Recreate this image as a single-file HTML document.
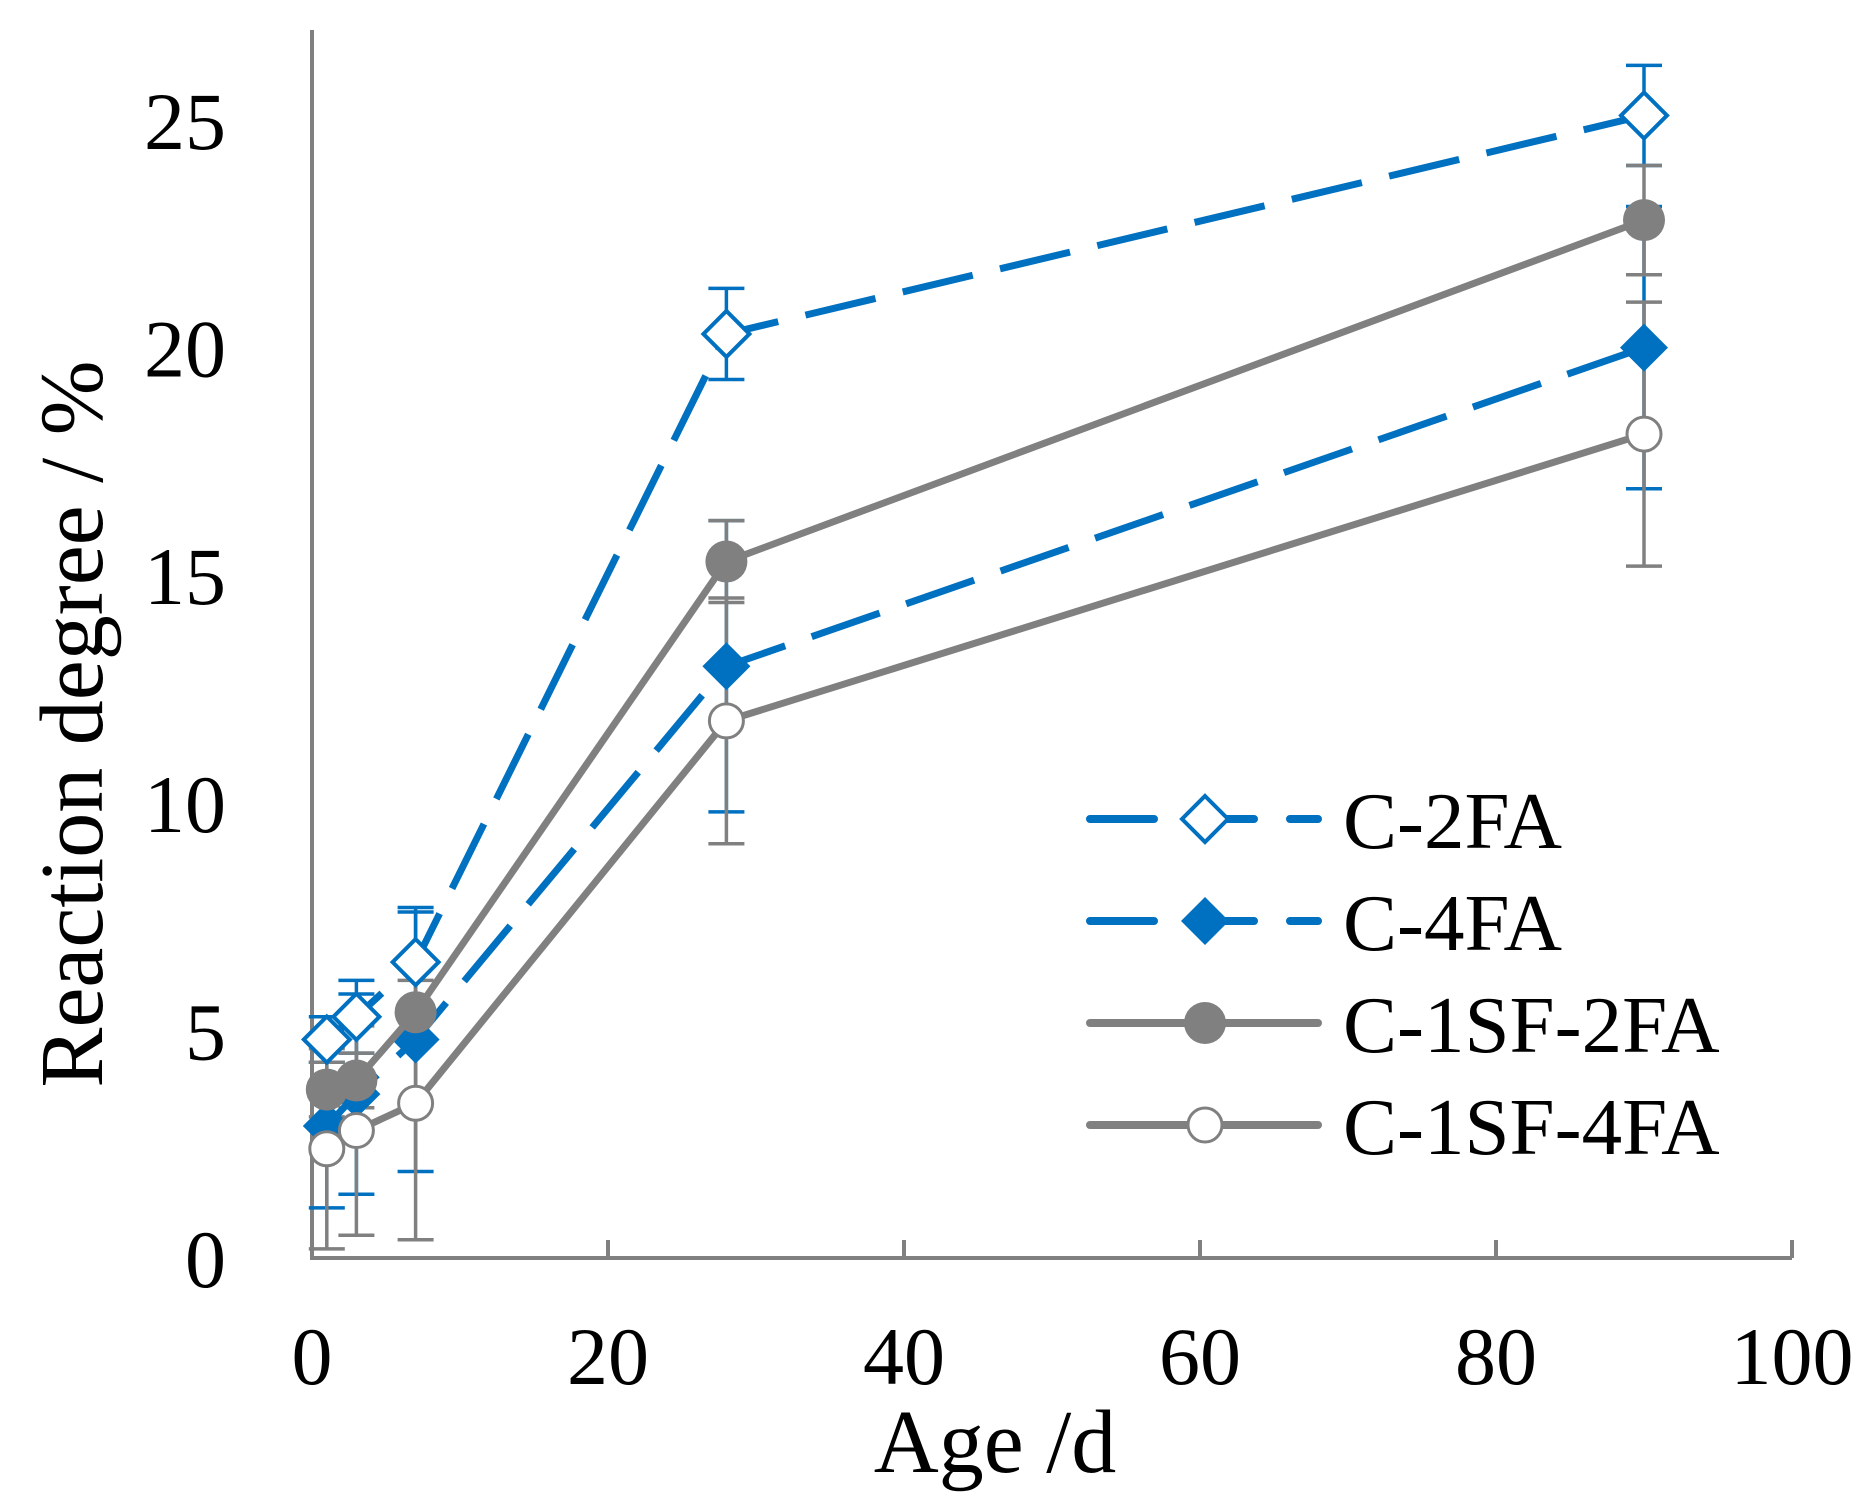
<!DOCTYPE html>
<html><head><meta charset="utf-8">
<style>
html,body{margin:0;padding:0;background:#fff;}
svg{display:block;font-family:"Liberation Serif",serif;}
</style></head>
<body>
<svg id="chart" width="1861" height="1511" viewBox="0 0 1861 1511" xmlns="http://www.w3.org/2000/svg"></svg>
<script>
const ages = [1, 3, 7, 28, 90];
const c2faValues = [4.8, 5.3, 6.5, 20.3, 25.1];
const c2faErrors = [0.5, 0.8, 1.1, 1.0, 1.1];
const c4faValues = [2.9, 3.6, 4.8, 13.0, 20.0];
const c4faErrors = [1.8, 2.2, 2.9, 3.2, 3.1];
const c1sf2faValues = [3.7, 3.9, 5.4, 15.3, 22.8];
const c1sf2faErrors = [0.6, 0.6, 0.7, 0.9, 1.2];
const c1sf4faValues = [2.4, 2.8, 3.4, 11.8, 18.1];
const c1sf4faErrors = [2.2, 2.3, 3.0, 2.7, 2.9];
const xTicks = [0, 20, 40, 60, 80, 100];
const yTicks = [0, 5, 10, 15, 20, 25];
const seriesNames = ["C-2FA", "C-4FA", "C-1SF-2FA", "C-1SF-4FA"];

const NS = "http://www.w3.org/2000/svg";
const svg = document.getElementById("chart");
const X0 = 312, X1 = 1792, Y0 = 1258, Y25 = 120;
const xs = v => X0 + (v / 100) * (X1 - X0);
const ys = v => Y0 - (v / 25) * (Y0 - Y25);
const BLUE = "#0070c0", GRAY = "#808080";

function mk(tag, attrs, parent) {
  const e = document.createElementNS(NS, tag);
  for (const k in attrs) e.setAttribute(k, attrs[k]);
  (parent || svg).appendChild(e);
  return e;
}

const yAxis = mk("line", {x1: X0, y1: 30, x2: X0, y2: Y0, stroke: GRAY, "stroke-width": 4});


const xAxis = mk("line", {x1: X0 - 2, y1: Y0, x2: X1, y2: Y0, stroke: GRAY, "stroke-width": 4});



xTicks.forEach(t => {
  if (t > 0) {
    const tk = mk("line", {x1: xs(t), y1: Y0, x2: xs(t), y2: Y0 - 18, stroke: GRAY, "stroke-width": 4});
    
    
  }
  const lb = mk("text", {x: xs(t), y: Y0 + 126, "text-anchor": "middle", "font-size": 82, fill: "#000"});
  lb.textContent = t;
  
  
});
yTicks.forEach(t => {
  const lb = mk("text", {x: 226, y: ys(t) + 29, "text-anchor": "end", "font-size": 82, fill: "#000"});
  lb.textContent = t;
  
  
});

const xt = mk("text", {x: 995, y: 1472, "text-anchor": "middle", "font-size": 90, fill: "#000"});
xt.textContent = "Age /d";


const yt = mk("text", {x: 0, y: 0, "text-anchor": "middle", "font-size": 90, fill: "#000", transform: "translate(102,724) rotate(-90)"});
yt.textContent = "Reaction degree / %";



function marker(type, cx, cy, g) {
  let m;
  if (type === "odiamond") m = mk("polygon", {points: `${cx},${cy-23} ${cx+23},${cy} ${cx},${cy+23} ${cx-23},${cy}`, fill: "#fff", stroke: BLUE, "stroke-width": 4}, g);
  else if (type === "fdiamond") m = mk("polygon", {points: `${cx},${cy-24} ${cx+24},${cy} ${cx},${cy+24} ${cx-24},${cy}`, fill: BLUE}, g);
  else if (type === "fcircle") m = mk("circle", {cx, cy, r: 21, fill: GRAY}, g);
  else m = mk("circle", {cx, cy, r: 17, fill: "#fff", stroke: GRAY, "stroke-width": 3}, g);
  return m;
}

const series = [
  {name: seriesNames[0], vals: c2faValues, errs: c2faErrors, color: BLUE, dash: "72 28", mk: "odiamond"},
  {name: seriesNames[1], vals: c4faValues, errs: c4faErrors, color: BLUE, dash: "72 28", mk: "fdiamond"},
  {name: seriesNames[2], vals: c1sf2faValues, errs: c1sf2faErrors, color: GRAY, dash: null, mk: "fcircle"},
  {name: seriesNames[3], vals: c1sf4faValues, errs: c1sf4faErrors, color: GRAY, dash: null, mk: "ocircle"}
];

series.forEach((s, si) => {
  const g = mk("g", {});
  
  
  ages.forEach((a, i) => {
    const x = xs(a), lo = ys(Math.max(0, s.vals[i] - s.errs[i])), hi = ys(s.vals[i] + s.errs[i]);
    mk("line", {x1: x, y1: lo, x2: x, y2: hi, stroke: s.color, "stroke-width": 3.5}, g);
    mk("line", {x1: x - 18, y1: lo, x2: x + 18, y2: lo, stroke: s.color, "stroke-width": 3.5}, g);
    mk("line", {x1: x - 18, y1: hi, x2: x + 18, y2: hi, stroke: s.color, "stroke-width": 3.5}, g);
  });
});

series.forEach((s, si) => {
  const g = mk("g", {});
  
  
  const pts = ages.map((a, i) => xs(a) + "," + ys(s.vals[i])).join(" ");
  const attrs = {points: pts, fill: "none", stroke: s.color, "stroke-width": 7, "stroke-linejoin": "round"};
  if (s.dash) attrs["stroke-dasharray"] = s.dash;
  mk("polyline", attrs, g);
  ages.forEach((a, i) => {
    const m = marker(s.mk, xs(a), ys(s.vals[i]), g);
    
    
  });
  const ly = 819 + si * 102;
  const lg = mk("g", {});
  
  
  const la = {x1: 1090, y1: ly, x2: 1318, y2: ly, stroke: s.color, "stroke-width": 8, "stroke-linecap": "round"};
  if (s.dash) la["stroke-dasharray"] = "64 36";
  mk("line", la, lg);
  marker(s.mk, 1205, ly, lg);
  const t = mk("text", {x: 1343, y: ly + 29, "font-size": 81, fill: "#000"}, lg);
  t.textContent = s.name;
});
</script>
</body></html>
